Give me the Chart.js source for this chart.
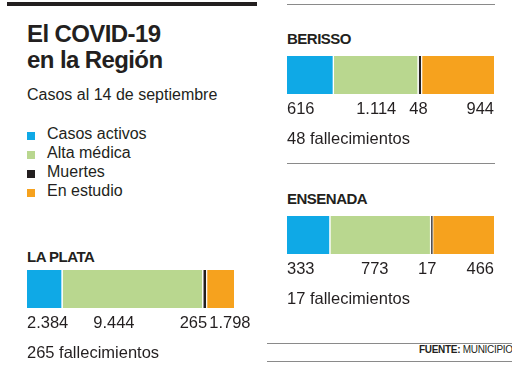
<!DOCTYPE html>
<html><head><meta charset="utf-8">
<script src="https://cdn.jsdelivr.net/npm/chart.js@4/dist/chart.umd.min.js"></script>
<style>
html,body{margin:0;padding:0;width:512px;height:368px;overflow:hidden;background:#fff;font-family:"Liberation Sans",Arial,sans-serif;color:#231F20;}
.abs{position:absolute;white-space:nowrap;}
.title{font-weight:bold;font-size:24px;line-height:26px;letter-spacing:-0.6px;left:27px;}
.sub{font-size:16px;line-height:16px;left:27px;}
.leg{font-size:16px;line-height:16px;left:47px;}
.sq{position:absolute;left:27px;width:8px;height:8px;}
.sec{font-weight:bold;font-size:15px;line-height:15px;letter-spacing:-0.5px;}
.box{position:absolute;width:240px;height:100px;}
.hl{position:absolute;height:1px;background:#8a8a8a;}
</style></head><body>
<div class="abs" style="left:7px;top:2px;width:250px;height:4px;background:#231F20;"></div>
<div class="hl" style="left:287px;top:4px;width:208px;"></div>
<div class="hl" style="left:287px;top:163px;width:208px;"></div>
<div class="hl" style="left:267px;top:343px;width:245px;"></div>
<div class="hl" style="left:267px;top:361px;width:245px;"></div>
<div class="abs" style="left:419px;top:345px;font-size:10px;line-height:10px;letter-spacing:-0.3px;"><b>FUENTE:</b> MUNICIPIOS</div>

<div class="abs title" style="top:21px;">El COVID-19</div>
<div class="abs title" style="top:47px;">en la Región</div>
<div class="abs sub" style="top:87px;">Casos al 14 de septiembre</div>
<div id="legend"></div>

<div id="h0" class="abs sec" style="left:27px;top:249px;"></div>
<div id="h1" class="abs sec" style="left:287px;top:31px;"></div>
<div id="h2" class="abs sec" style="left:287px;top:191px;"></div>
<div class="box" style="left:27px;top:270px;"><canvas id="c0"></canvas></div>
<div class="box" style="left:287px;top:56px;"><canvas id="c1"></canvas></div>
<div class="box" style="left:287px;top:216px;"><canvas id="c2"></canvas></div>

<script>
// ---- data ----
const regions = ['LA PLATA', 'BERISSO', 'ENSENADA'];
const seriesNames = ['Casos activos', 'Alta médica', 'Muertes', 'En estudio'];
const casosActivos = [2384, 616, 333];
const altaMedica = [9444, 1114, 773];
const muertes = [265, 48, 17];
const enEstudio = [1798, 944, 466];

// ---- style ----
const colors = ['#0FA9E6', '#B9D78F', '#231F20', '#F6A21E'];
const labelAlign = [
  {align: ['left', 'center', 'right', 'left'], dx: [0, -19, 0, 2]},
  {align: ['left', 'center', 'center', 'right'], dx: [0, 0, -2, 0]},
  {align: ['left', 'center', 'center', 'right'], dx: [0, -6, -5, 0]}
];
const deathBorder = [1.5, 1.5, 2];

function fmt(n){ return String(n).replace(/\B(?=(\d{3})+(?!\d))/g, '.'); }

// legend
const leg = document.getElementById('legend');
seriesNames.forEach((s, i) => {
  const top = 126 + i * 19;
  const sq = document.createElement('div');
  sq.className = 'sq'; sq.style.top = (top + 6) + 'px'; sq.style.background = colors[i];
  leg.appendChild(sq);
  const t = document.createElement('div');
  t.className = 'abs leg'; t.style.top = top + 'px'; t.textContent = s;
  leg.appendChild(t);
});

const valueLabels = {
  id: 'valueLabels',
  afterDatasetsDraw(chart, args, opts) {
    const ctx = chart.ctx;
    ctx.save();
    ctx.font = '16.5px "Liberation Sans", Arial, sans-serif';
    ctx.fillStyle = '#231F20';
    ctx.textBaseline = 'alphabetic';
    let bottom = 0;
    chart.data.datasets.forEach((ds, i) => {
      const el = chart.getDatasetMeta(i).data[0];
      const left = Math.min(el.base, el.x), right = Math.max(el.base, el.x);
      bottom = el.y + el.height / 2;
      const a = opts.align[i];
      let x = a === 'left' ? left : a === 'right' ? right : (left + right) / 2;
      x += opts.dx[i];
      ctx.textAlign = a;
      ctx.fillText(fmt(ds.data[0]), x, bottom + 20);
    });
    ctx.textAlign = 'left';
    ctx.fillText(fmt(opts.deaths) + ' fallecimientos', chart.chartArea.left, bottom + 50);
    ctx.restore();
  }
};

regions.forEach((r, k) => {
  document.getElementById('h' + k).textContent = r;
  const vals = [casosActivos[k], altaMedica[k], muertes[k], enEstudio[k]];
  const total = vals.reduce((a, b) => a + b, 0);
  new Chart(document.getElementById('c' + k), {
    type: 'bar',
    data: {
      labels: [r],
      datasets: vals.map((v, i) => ({
        label: seriesNames[i],
        data: [v],
        backgroundColor: colors[i],
        borderColor: '#ffffff',
        borderWidth: i < 3 ? {left: 0, right: (i === 2 ? deathBorder[k] : 1.5), top: 0, bottom: 0} : 0,
        borderSkipped: false,
        barPercentage: 1,
        categoryPercentage: 1
      }))
    },
    options: {
      indexAxis: 'y',
      responsive: true,
      maintainAspectRatio: false,
      animation: false,
      layout: {padding: {left: 0, right: 33, top: 0, bottom: 62}},
      scales: {
        x: {stacked: true, min: 0, max: total, display: false},
        y: {stacked: true, display: false}
      },
      plugins: {
        legend: {display: false},
        tooltip: {enabled: false},
        valueLabels: Object.assign({deaths: muertes[k]}, labelAlign[k])
      }
    },
    plugins: [valueLabels]
  });
});
</script>
</body></html>
